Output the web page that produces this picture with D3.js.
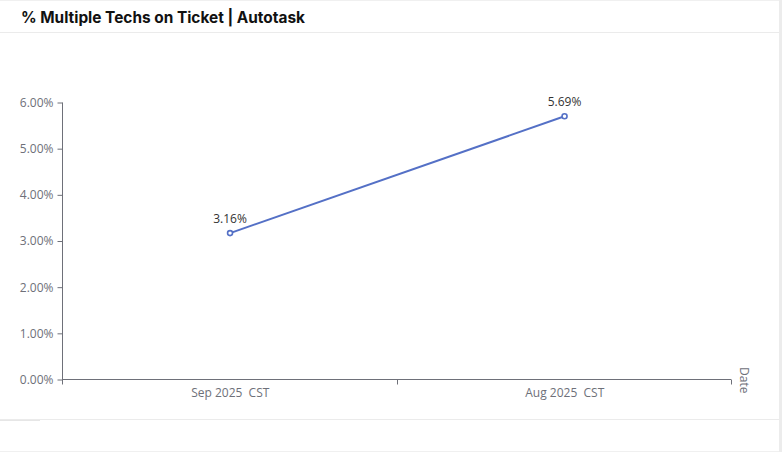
<!DOCTYPE html>
<html><head><meta charset="utf-8">
<script src="https://cdn.jsdelivr.net/npm/d3@7/dist/d3.min.js"></script>
<style>
html,body{margin:0;padding:0;background:#fff;overflow:hidden;}
svg{display:block;}
text{white-space:pre;}
</style></head>
<body>
<svg id="c" width="782" height="452"></svg>
<script>
const title = "% Multiple Techs on Ticket | Autotask";
const categories = ["Sep 2025  CST", "Aug 2025  CST"];
const values = [3.16, 5.69];
const yTicks = [0, 1, 2, 3, 4, 5, 6];
const xAxisName = "Date";

(function(){
const svg = d3.select("#c");
const W = 782, H = 452;
const mLeft = 62, mRight = 731, mTop = 102, mBottom = 379;

// frame / card lines
svg.append("rect").attr("x",0).attr("y",0).attr("width",779).attr("height",1).attr("fill","#f0f0f0");
svg.append("rect").attr("x",779).attr("y",0).attr("width",3).attr("height",H).attr("fill","#ececec");
svg.append("rect").attr("x",0).attr("y",32).attr("width",779).attr("height",1).attr("fill","#ebebeb");
svg.append("rect").attr("x",0).attr("y",419).attr("width",779).attr("height",1).attr("fill","#ebebeb");
svg.append("rect").attr("x",0).attr("y",420).attr("width",40).attr("height",1).attr("fill","#e6e6e6");
svg.append("rect").attr("x",0).attr("y",451).attr("width",779).attr("height",1).attr("fill","#f0f0f0");

svg.append("text").attr("x",21).attr("y",23)
  .attr("font-family","Inter, 'Noto Sans', sans-serif").attr("font-weight",700)
  .attr("font-size",15.4).attr("fill","#111").text(title);

const x = d3.scaleBand().domain(categories).range([mLeft, mRight]);
const y = d3.scaleLinear().domain([0, 6]).range([mBottom, mTop]);

const axisColor = "#6e7079";
const font = "'Segoe UI','Open Sans','Noto Sans',sans-serif";

// y axis
const yAxis = d3.axisLeft(y).tickValues(yTicks).tickSize(5).tickPadding(4)
  .tickFormat(d => d.toFixed(2) + "%");
const gy = svg.append("g").attr("transform",`translate(${mLeft+0.5},0.5)`).call(yAxis);
gy.selectAll("path,line").attr("stroke",axisColor);
gy.select(".domain").attr("d", `M0,${mTop}V${mBottom}`);
gy.selectAll("text").attr("fill",axisColor).attr("font-size",12).attr("font-family",font);

// x axis
const xAxis = d3.axisBottom(x).tickSize(0).tickPadding(9);
const gx = svg.append("g").attr("transform",`translate(0,${mBottom+0.5})`).call(xAxis);
gx.select(".domain").attr("d", `M${mLeft},0H${mRight}`).attr("stroke",axisColor);
gx.selectAll("text").attr("fill",axisColor).attr("font-size",12).attr("font-family",font)
  .attr("dx",1).style("white-space","pre");
// boundary ticks
const bounds = [mLeft, ...categories.slice(1).map(c => x(c)), mRight];
gx.selectAll(".bt").data(bounds).enter().append("line")
  .attr("x1",d=>Math.round(d)+0.5).attr("x2",d=>Math.round(d)+0.5)
  .attr("y1",0).attr("y2",5).attr("stroke",axisColor);

svg.append("text").attr("transform",`translate(740,${mBottom-12}) rotate(90)`)
  .attr("fill",axisColor).attr("font-size",12).attr("font-family",font)
  .text(xAxisName);

// line
const cx = c => x(c) + x.bandwidth()/2 + 0.8;
const line = d3.line().x((d,i)=>cx(categories[i])).y(d=>y(d));
svg.append("path").datum(values).attr("d",line)
  .attr("fill","none").attr("stroke","#5470c6").attr("stroke-width",2);
svg.selectAll(".pt").data(values).enter().append("circle")
  .attr("cx",(d,i)=>cx(categories[i])).attr("cy",d=>y(d)).attr("r",2.5)
  .attr("fill","#fff").attr("stroke","#5470c6").attr("stroke-width",1.6);
svg.selectAll(".lbl").data(values).enter().append("text")
  .attr("x",(d,i)=>cx(categories[i])).attr("y",d=>y(d)-10)
  .attr("text-anchor","middle").attr("fill","#333").attr("font-size",12).attr("font-family",font)
  .text(d=>d.toFixed(2)+"%");
})();
</script>
</body></html>
